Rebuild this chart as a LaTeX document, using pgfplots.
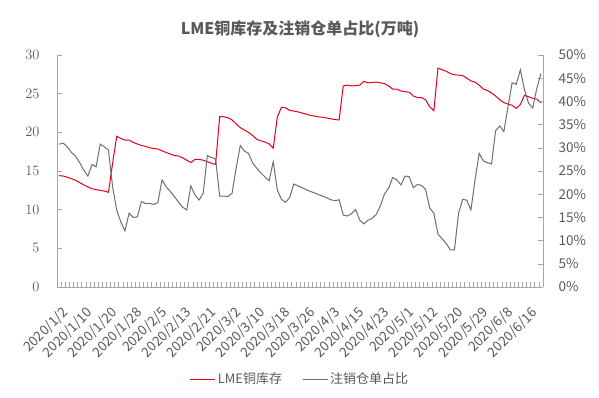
\documentclass[border=0pt]{standalone}
\usepackage{fontspec}
\setmainfont{Noto Sans CJK SC}
\usepackage{pgfplots}
\pgfplotsset{compat=1.18}
\definecolor{txt}{HTML}{595959}
\definecolor{axc}{HTML}{A6A6A6}
\definecolor{redl}{HTML}{E2001A}
\definecolor{grayl}{HTML}{6E6E6E}

\pgfplotstableread{
i v
0 14.4
1 14.35
2 14.2
3 14.0
4 13.8
5 13.5
6 13.2
7 12.95
8 12.7
9 12.6
10 12.5
11 12.4
12 12.25
13 16.0
14 19.5
15 19.2
16 19.0
17 19.0
18 18.7
19 18.5
20 18.3
21 18.2
22 18.0
23 17.9
24 17.85
25 17.6
26 17.4
27 17.2
28 17.0
29 16.95
30 16.7
31 16.4
32 16.1
33 16.5
34 16.5
35 16.4
36 16.2
37 16.0
38 15.85
39 22.05
40 22.0
41 21.9
42 21.6
43 21.1
44 20.6
45 20.3
46 20.0
47 19.6
48 19.1
49 18.9
50 18.75
51 18.5
52 17.95
53 22.0
54 23.25
55 23.15
56 22.85
57 22.75
58 22.65
59 22.5
60 22.35
61 22.2
62 22.1
63 22.0
64 21.95
65 21.85
66 21.75
67 21.65
68 21.6
69 26.0
70 26.1
71 26.0
72 26.05
73 26.1
74 26.6
75 26.4
76 26.45
77 26.5
78 26.4
79 26.3
80 26.0
81 25.6
82 25.6
83 25.35
84 25.25
85 25.2
86 24.7
87 24.5
88 24.5
89 24.2
90 23.3
91 22.8
92 28.3
93 28.1
94 27.9
95 27.6
96 27.45
97 27.4
98 27.35
99 27.0
100 26.65
101 26.5
102 26.1
103 25.6
104 25.4
105 25.1
106 24.7
107 24.2
108 23.85
109 23.65
110 23.5
111 23.1
112 23.6
113 24.8
114 24.6
115 24.4
116 24.3
117 23.8
}\stocktab

\pgfplotstableread{
i v
0 30.8
1 31.0
2 30.2
3 29.0
4 28.2
5 26.8
6 25.2
7 23.9
8 26.4
9 25.9
10 30.8
11 30.2
12 29.5
13 21.6
14 16.6
15 14.0
16 12.1
17 15.9
18 15.0
19 15.1
20 18.4
21 18.0
22 18.0
23 17.8
24 18.2
25 23.1
26 21.6
27 20.6
28 19.5
29 18.3
30 17.2
31 16.6
32 21.8
33 19.8
34 18.75
35 20.2
36 28.3
37 27.9
38 27.6
39 19.6
40 19.6
41 19.5
42 20.2
43 25.6
44 30.5
45 29.3
46 28.8
47 26.7
48 25.6
49 24.6
50 23.7
51 22.9
52 27.0
53 20.9
54 18.9
55 18.25
56 19.3
57 22.2
58 21.8
59 21.4
60 21.0
61 20.6
62 20.3
63 19.9
64 19.6
65 19.2
66 18.8
67 18.6
68 18.8
69 15.5
70 15.3
71 15.8
72 16.7
73 14.4
74 13.6
75 14.4
76 14.8
77 15.6
78 17.5
79 20.0
80 21.3
81 23.6
82 23.1
83 22.0
84 23.9
85 23.8
86 21.4
87 22.1
88 21.9
89 21.0
90 17.0
91 15.9
92 11.4
93 10.4
94 9.4
95 8.0
96 8.0
97 15.9
98 18.9
99 18.7
100 16.6
101 23.1
102 28.8
103 27.2
104 26.8
105 26.5
106 33.7
107 34.7
108 33.5
109 38.8
110 44.0
111 43.7
112 46.8
113 42.5
114 39.6
115 38.6
116 42.8
117 46.0
}\ratiotab

\begin{document}
\begin{tikzpicture}
\path[use as bounding box] (-57pt,-110pt) rectangle (542pt,287pt);
\begin{axis}[
  at={(0pt,0pt)}, anchor=south west,
  scale only axis, width=486pt, height=232pt,
  xmin=-0.5, xmax=117.5, ymin=0, ymax=30,
  axis x line*=bottom, axis y line*=left,
  axis line style={draw=axc, line width=0.75pt},
  tick align=inside,
  tick style={draw=axc, line width=0.6pt},
  major tick length=5pt,
  xtick={-0.5,0.5,...,117.5},
  xticklabels={},
  extra x ticks={0,6,...,114},
  extra x tick labels={2020/1/2,2020/1/10,2020/1/20,2020/1/28,2020/2/5,2020/2/13,2020/2/21,2020/3/2,2020/3/10,2020/3/18,2020/3/26,2020/4/3,2020/4/15,2020/4/23,2020/5/1,2020/5/12,2020/5/20,2020/5/29,2020/6/8,2020/6/16},
  extra x tick style={major tick length=0pt, xticklabel style={xshift=9pt, yshift=-21pt, rotate=45, anchor=east, font=\fontsize{13.5}{15}\selectfont, text=txt}},
  ytick={0,5,...,30},
  yticklabel style={font=\fontsize{13.5}{15}\selectfont, text=txt, xshift=-14pt},
  legend style={at={(0.5,-0.397)}, anchor=center, legend columns=2, draw=none, fill=none,
    font=\fontsize{13}{15}\selectfont, text=txt,
    /tikz/every even column/.append style={column sep=18pt}},
  legend image code/.code={\draw[#1] (0pt,0pt) -- (25pt,0pt);},
]
\addplot[redl, line width=1pt] table[x=i, y=v] {\stocktab};
\addlegendentry{LME铜库存}
\addlegendimage{grayl, line width=1pt}
\addlegendentry{注销仓单占比}
\end{axis}
\begin{axis}[
  at={(0pt,0pt)}, anchor=south west,
  scale only axis, width=486pt, height=232pt,
  xmin=-0.5, xmax=117.5, ymin=0, ymax=50,
  axis x line=none, axis y line*=right,
  axis line style={draw=axc, line width=0.75pt},
  tick align=inside,
  tick style={draw=axc, line width=0.6pt},
  major tick length=5pt,
  ytick={0,5,...,50},
  /pgf/number format/assume math mode=true,
  yticklabel={\pgfmathprintnumber{\tick}\%},
  yticklabel style={font=\fontsize{13.5}{15}\selectfont, text=txt, xshift=12pt},
]
\addplot[grayl, line width=1pt] table[x=i, y=v] {\ratiotab};
\end{axis}
\node[font=\fontsize{16}{18}\selectfont\bfseries, text=txt] at (243pt,258pt) {LME铜库存及注销仓单占比(万吨)};
\end{tikzpicture}
\end{document}
